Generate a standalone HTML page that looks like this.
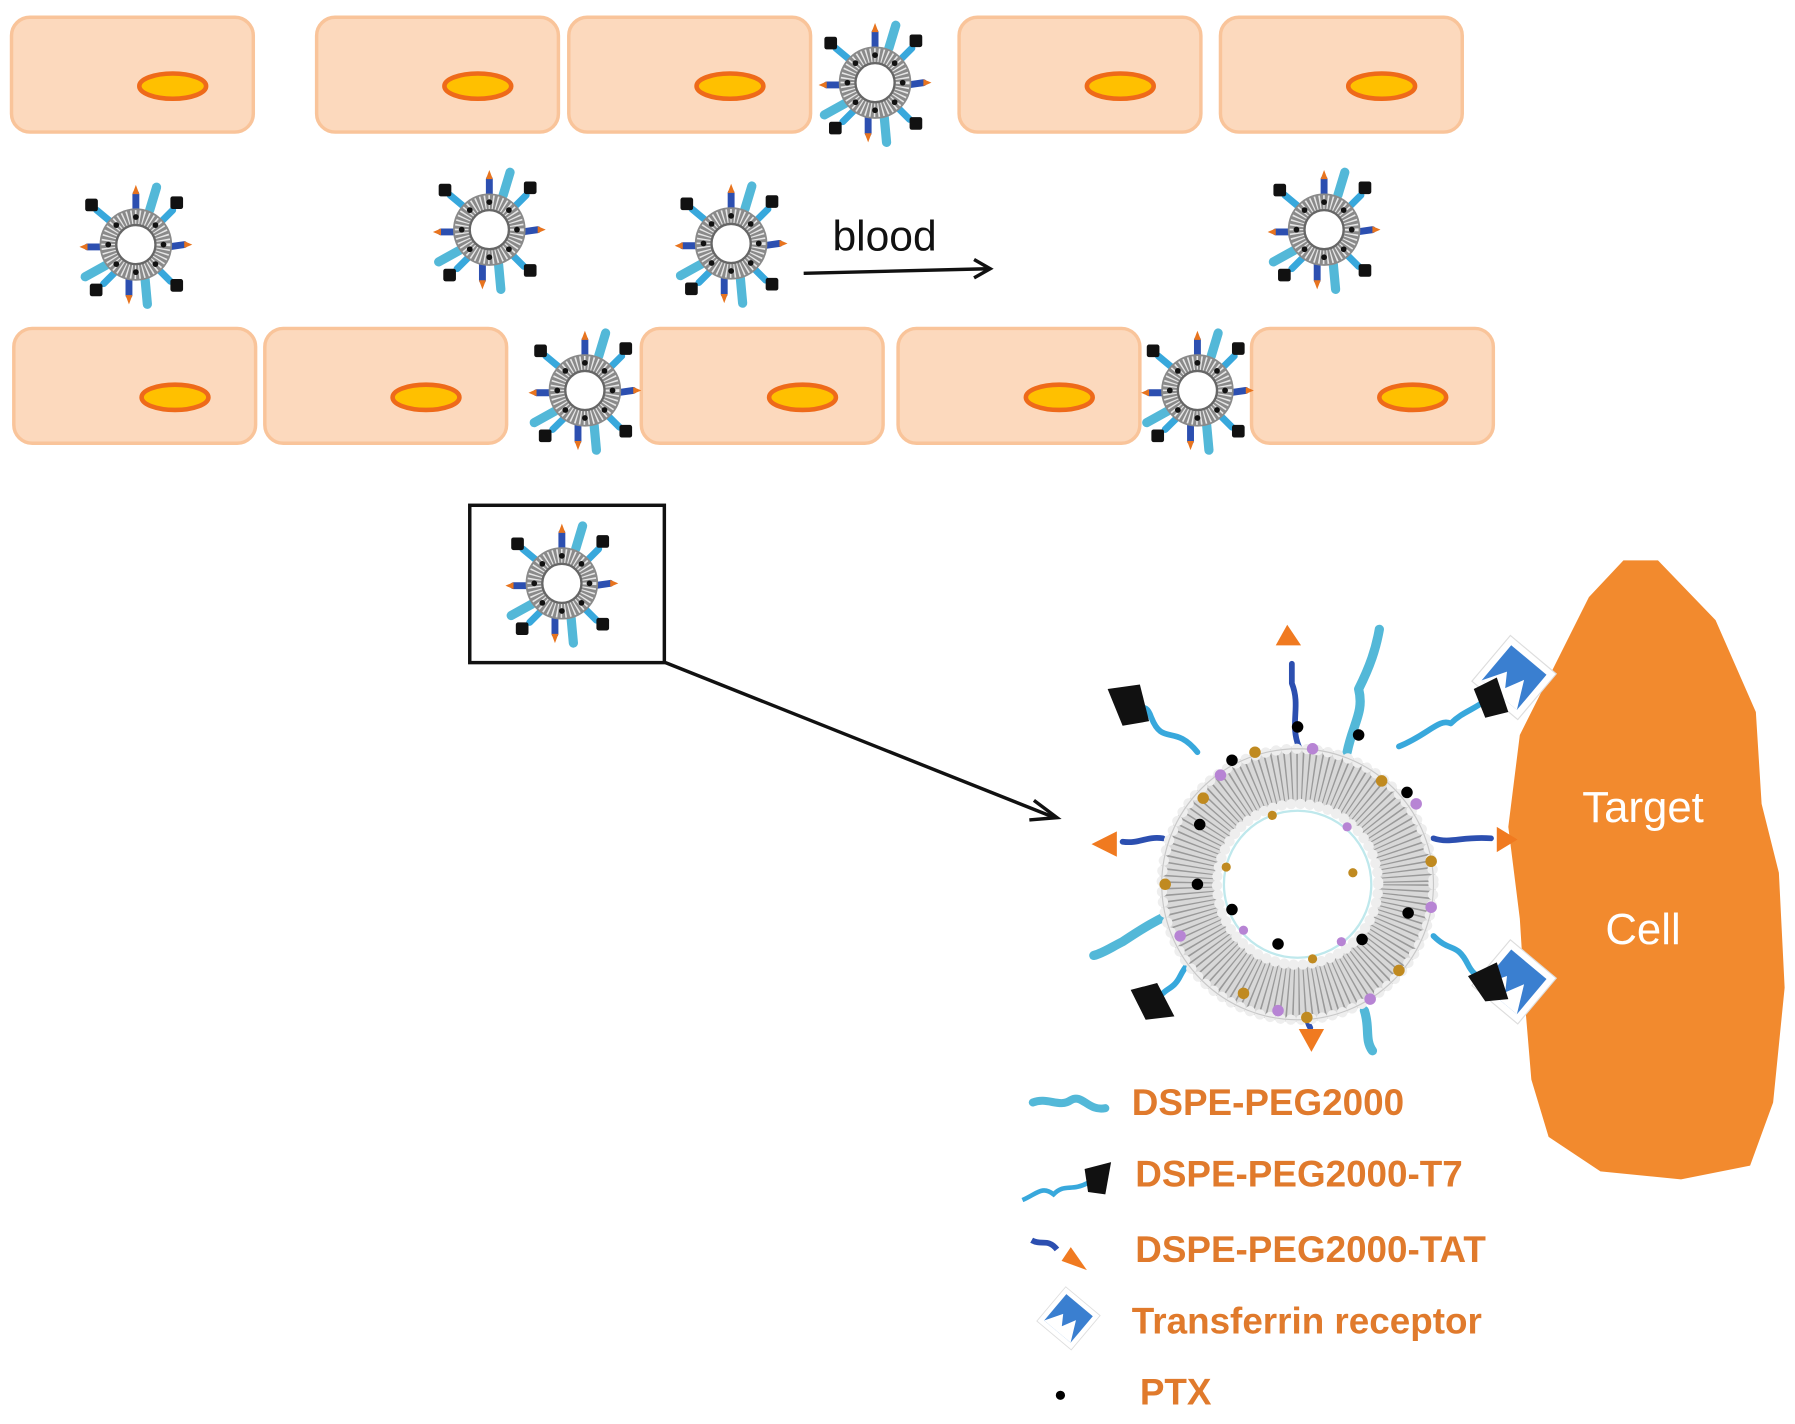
<!DOCTYPE html>
<html><head><meta charset="utf-8"><style>
html,body{margin:0;padding:0;background:#fff;}
svg{display:block;}
</style></head><body>
<svg width="1795" height="1424" viewBox="0 0 1559 1240" preserveAspectRatio="none" xmlns="http://www.w3.org/2000/svg">
<defs>
<g id="cell">
  <rect x="0" y="0" width="210" height="100" rx="16" fill="#fcd9bd" stroke="#f9c49a" stroke-width="3"/>
  <ellipse cx="140" cy="60" rx="29" ry="11" fill="#ffc000" stroke="#ee6a1a" stroke-width="4"/>
</g>
<g id="rec">
  <path d="M-26,-26 L26,-26 L26,26 L-26,26 Z" fill="#fff" stroke="#ddd" stroke-width="1"/>
  <path d="M-20,-20 L20,-20 L20,20 L-20,20 Z" fill="#3a7fd0"/>
  <path d="M-20,20 L-8,0 L0,12 L8,-4 L20,20 Z" fill="#fff"/>
</g>
<g id="lip">
  <g stroke-linecap="round">
    <line x1="0" y1="-28" x2="0" y2="-44" stroke="#2c4fb0" stroke-width="6"/>
    <polygon points="-3,-44 3,-44 0,-52" fill="#e8741e"/>
    <line x1="12" y1="-30" x2="18" y2="-50" stroke="#53b8d8" stroke-width="8"/>
    <line x1="22" y1="-20" x2="32" y2="-30" stroke="#38a8dc" stroke-width="6"/>
    <rect x="30" y="-42" width="11" height="11" fill="#111" rx="2"/>
    <line x1="-22" y1="-20" x2="-34" y2="-30" stroke="#38a8dc" stroke-width="6"/>
    <rect x="-44" y="-40" width="11" height="11" fill="#111" rx="2"/>
    <line x1="28" y1="2" x2="42" y2="0" stroke="#2c4fb0" stroke-width="6"/>
    <polygon points="42,-3 42,3 49,0" fill="#e8741e"/>
    <line x1="-28" y1="2" x2="-42" y2="2" stroke="#2c4fb0" stroke-width="6"/>
    <polygon points="-42,-1 -42,5 -49,2" fill="#e8741e"/>
    <line x1="-26" y1="18" x2="-44" y2="28" stroke="#53b8d8" stroke-width="8"/>
    <line x1="-18" y1="24" x2="-28" y2="34" stroke="#38a8dc" stroke-width="6"/>
    <rect x="-40" y="34" width="11" height="11" fill="#111" rx="2"/>
    <line x1="20" y1="22" x2="30" y2="32" stroke="#38a8dc" stroke-width="6"/>
    <rect x="30" y="30" width="11" height="11" fill="#111" rx="2"/>
    <line x1="-6" y1="30" x2="-6" y2="44" stroke="#2c4fb0" stroke-width="6"/>
    <polygon points="-9,44 -3,44 -6,52" fill="#e8741e"/>
    <line x1="8" y1="30" x2="10" y2="52" stroke="#53b8d8" stroke-width="8"/>
  </g>
  <circle r="24" fill="none" stroke="#8a8a8a" stroke-width="15"/>
  <circle r="24" fill="none" stroke="#e6e6e6" stroke-width="12" stroke-dasharray="1.2 2.2"/>
  <circle r="17" fill="none" stroke="#666" stroke-width="2"/>
  <g fill="#111">
    <circle cx="0" cy="-24" r="2.5"/><circle cx="17" cy="-17" r="2.5"/><circle cx="24" cy="0" r="2.5"/><circle cx="17" cy="17" r="2.5"/>
    <circle cx="0" cy="24" r="2.5"/><circle cx="-17" cy="17" r="2.5"/><circle cx="-24" cy="0" r="2.5"/><circle cx="-17" cy="-17" r="2.5"/>
  </g>
</g>
</defs>

<use href="#cell" x="10" y="15"/>
<use href="#cell" x="275" y="15"/>
<use href="#cell" x="494" y="15"/>
<use href="#cell" x="833" y="15"/>
<use href="#cell" x="1060" y="15"/>
<use href="#cell" x="12" y="286"/>
<use href="#cell" x="230" y="286"/>
<use href="#cell" x="557" y="286"/>
<use href="#cell" x="780" y="286"/>
<use href="#cell" x="1087" y="286"/>

<use href="#lip" x="760" y="72"/>
<use href="#lip" x="118" y="213"/>
<use href="#lip" x="425" y="200"/>
<use href="#lip" x="635" y="212"/>
<use href="#lip" x="1150" y="200"/>
<use href="#lip" x="508" y="340"/>
<use href="#lip" x="1040" y="340"/>

<text x="723" y="218" font-family="Liberation Sans, sans-serif" font-size="37" fill="#111">blood</text>
<line x1="698" y1="238" x2="858" y2="234" stroke="#111" stroke-width="3"/>
<polyline points="846,226 860,234 846,242" fill="none" stroke="#111" stroke-width="3"/>

<rect x="408" y="440" width="169" height="137" fill="none" stroke="#111" stroke-width="3"/>
<use href="#lip" x="488" y="508"/>

<line x1="578" y1="577" x2="916" y2="712" stroke="#111" stroke-width="3"/>
<polyline points="898,697 918,712 894,714" fill="none" stroke="#111" stroke-width="3"/>

<path d="M1410,488 L1440,488 L1490,540 L1525,620 L1530,700 L1545,760 L1550,860 L1540,960 L1520,1015 L1460,1027 L1390,1020 L1345,990 L1330,940 L1325,880 L1320,800 L1310,720 L1320,640 L1350,580 L1380,520 Z" fill="#f28a2e"/>
<text x="1427" y="716" text-anchor="middle" font-family="Liberation Sans, sans-serif" font-size="38" fill="#fff">Target</text>
<text x="1427" y="822" text-anchor="middle" font-family="Liberation Sans, sans-serif" font-size="38" fill="#fff">Cell</text>

<use href="#rec" transform="translate(1315,590) rotate(40)"/>
<use href="#rec" transform="translate(1315,855) rotate(40)"/>

<g fill="none" stroke-linecap="round" stroke-linejoin="round">
  <path d="M1040,655 C1020,630 1010,650 1000,625 C995,610 990,620 985,615" stroke="#38a8dc" stroke-width="5"/>
  <path d="M1215,650 C1240,640 1250,625 1260,630 C1270,620 1280,618 1290,610" stroke="#38a8dc" stroke-width="5"/>
  <path d="M1245,815 C1260,830 1265,820 1275,840 C1280,850 1285,850 1290,855" stroke="#38a8dc" stroke-width="5"/>
  <path d="M1050,820 C1040,840 1035,830 1025,850 C1020,860 1015,860 1010,865" stroke="#38a8dc" stroke-width="5"/>
  <path d="M1030,790 C1005,800 990,810 975,820 C965,825 958,830 950,832" stroke="#53b8d8" stroke-width="8"/>
  <path d="M1170,655 C1175,630 1185,620 1180,600 C1190,580 1195,565 1198,548" stroke="#53b8d8" stroke-width="8"/>
  <path d="M1185,880 C1190,895 1185,905 1192,915" stroke="#53b8d8" stroke-width="8"/>
  <path d="M1128,650 C1120,630 1130,615 1122,595 L1122,578" stroke="#2c4fb0" stroke-width="5"/>
  <path d="M1010,730 C995,728 990,735 975,733" stroke="#2c4fb0" stroke-width="5"/>
  <path d="M1245,730 C1260,735 1270,728 1295,730" stroke="#2c4fb0" stroke-width="5"/>
  <path d="M1135,860 C1140,875 1130,880 1138,895" stroke="#2c4fb0" stroke-width="5"/>
</g>
<polygon points="1108,562 1130,562 1118,544" fill="#f07a20"/>
<polygon points="970,724 970,746 948,735" fill="#f07a20"/>
<polygon points="1300,720 1300,742 1318,731" fill="#f07a20"/>
<polygon points="1128,896 1150,896 1139,916" fill="#f07a20"/>
<polygon points="962,600 990,596 998,628 975,632" fill="#111"/>
<polygon points="1280,600 1300,590 1310,620 1290,625" fill="#111"/>
<polygon points="1275,850 1300,838 1310,870 1290,872" fill="#111"/>
<polygon points="982,862 1005,856 1020,885 995,888" fill="#111"/>

<circle cx="1127" cy="770" r="94" fill="none" stroke="#d8d8d8" stroke-width="52"/>
<circle cx="1127" cy="770" r="94" fill="none" stroke="#999" stroke-width="46" stroke-dasharray="1.2 3.5"/>
<circle cx="1127" cy="770" r="118" fill="none" stroke="#eee" stroke-width="9" stroke-dasharray="0.1 9" stroke-linecap="round"/>
<circle cx="1127" cy="770" r="118" fill="none" stroke="#c8c8c8" stroke-width="1"/>
<circle cx="1127" cy="770" r="70" fill="none" stroke="#eee" stroke-width="9" stroke-dasharray="0.1 8" stroke-linecap="round"/>
<circle cx="1127" cy="770" r="64" fill="#fff" stroke="#bfe8ec" stroke-width="2"/>
<g fill="#c08a20">
  <circle cx="1045" cy="695" r="5"/><circle cx="1200" cy="680" r="5"/><circle cx="1243" cy="750" r="5"/><circle cx="1215" cy="845" r="5"/>
  <circle cx="1080" cy="865" r="5"/><circle cx="1012" cy="770" r="5"/><circle cx="1135" cy="886" r="5"/><circle cx="1090" cy="655" r="5"/>
  <circle cx="1105" cy="710" r="4"/><circle cx="1175" cy="760" r="4"/><circle cx="1140" cy="835" r="4"/><circle cx="1065" cy="755" r="4"/>
</g>
<g fill="#b784d4">
  <circle cx="1060" cy="675" r="5"/><circle cx="1230" cy="700" r="5"/><circle cx="1243" cy="790" r="5"/><circle cx="1025" cy="815" r="5"/>
  <circle cx="1110" cy="880" r="5"/><circle cx="1190" cy="870" r="5"/><circle cx="1140" cy="652" r="5"/>
  <circle cx="1170" cy="720" r="4"/><circle cx="1080" cy="810" r="4"/><circle cx="1165" cy="820" r="4"/>
</g>
<g fill="#000">
  <circle cx="1127" cy="633" r="5"/><circle cx="1180" cy="640" r="5"/><circle cx="1222" cy="690" r="5"/><circle cx="1223" cy="795" r="5"/>
  <circle cx="1183" cy="818" r="5"/><circle cx="1110" cy="822" r="5"/><circle cx="1070" cy="792" r="5"/><circle cx="1042" cy="718" r="5"/>
  <circle cx="1070" cy="662" r="5"/><circle cx="1040" cy="770" r="5"/>
</g>

<g font-family="Liberation Sans, sans-serif" font-weight="bold" font-size="32" fill="#e07a2c">
  <text x="983" y="971">DSPE-PEG2000</text>
  <text x="986" y="1033">DSPE-PEG2000-T7</text>
  <text x="986" y="1099">DSPE-PEG2000-TAT</text>
  <text x="983" y="1161">Transferrin receptor</text>
  <text x="990" y="1223">PTX</text>
</g>
<path d="M897,960 C910,955 920,965 930,958 C940,952 945,968 960,965" fill="none" stroke="#53b8d8" stroke-width="7" stroke-linecap="round"/>
<path d="M888,1045 C900,1040 905,1032 915,1040 C925,1030 930,1038 945,1030" fill="none" stroke="#38a8dc" stroke-width="4"/>
<polygon points="942,1018 965,1012 960,1040 945,1038" fill="#111"/>
<path d="M896,1080 C905,1085 910,1078 918,1088" fill="none" stroke="#2c4fb0" stroke-width="5"/>
<polygon points="922,1098 944,1106 930,1086" fill="#f07a20"/>
<use href="#rec" transform="translate(928,1148) rotate(40) scale(0.75)"/>
<circle cx="921" cy="1215" r="4" fill="#000"/>
</svg>
</body></html>
